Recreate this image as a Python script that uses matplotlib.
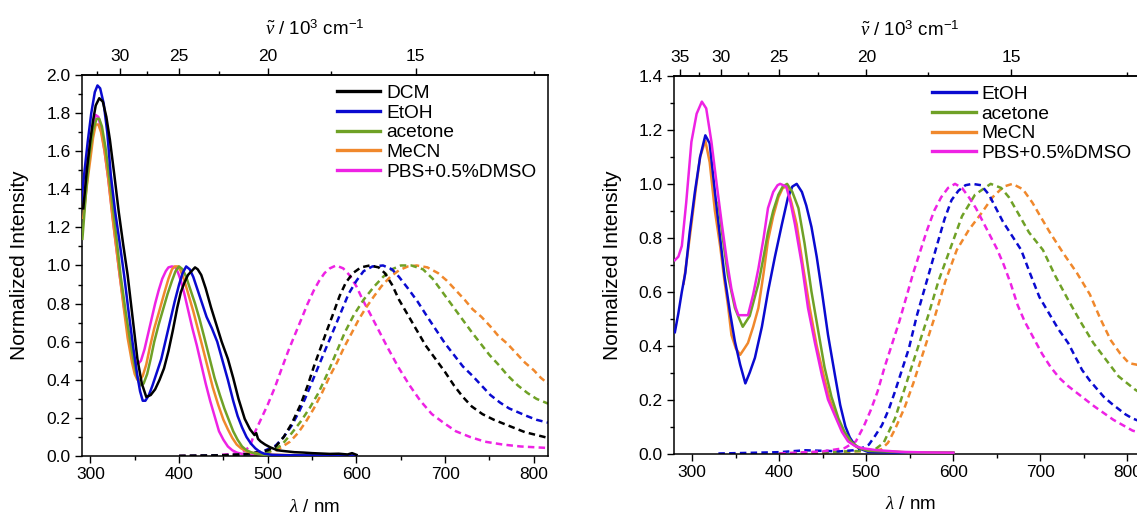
import numpy as np
import matplotlib.pyplot as plt
from matplotlib.ticker import MultipleLocator, FixedLocator, FormatStrFormatter

plt.rcParams['font.family'] = ['Liberation Sans', 'DejaVu Sans']
plt.rcParams['mathtext.fontset'] = 'custom'
plt.rcParams['mathtext.rm'] = 'Liberation Sans'
plt.rcParams['mathtext.it'] = 'Liberation Serif:italic'

c_dcm = '#000000'
c_etoh = '#0a0ad0'
c_acetone = '#6fa126'
c_mecn = '#f0882c'
c_pbs = '#ee22e4'

# ---- left panel: absorption (solid) ----
dcm_abs_wl = [292, 296, 300, 303, 306, 310, 314, 318, 322, 327, 332, 337, 342, 347, 353, 358, 363, 368, 373,
              378, 383, 388, 393, 398, 402, 406, 410, 414, 418, 421, 425, 430, 436, 442, 448, 455, 461, 467,
              474, 480, 485, 487, 489, 492, 497, 503, 511, 520, 530, 540, 550, 560, 570, 580, 590, 595, 600]
dcm_abs = [1.30, 1.50, 1.66, 1.76, 1.84, 1.878, 1.86, 1.78, 1.66, 1.475, 1.28, 1.11, 0.95, 0.75, 0.51, 0.38,
           0.31, 0.32, 0.35, 0.40, 0.46, 0.55, 0.66, 0.78, 0.86, 0.91, 0.95, 0.97, 0.99, 0.98, 0.95, 0.88, 0.78,
           0.69, 0.60, 0.51, 0.41, 0.30, 0.195, 0.14, 0.11, 0.12, 0.09, 0.076, 0.06, 0.045, 0.03, 0.025, 0.02,
           0.018, 0.015, 0.013, 0.011, 0.012, 0.008, 0.015, 0.006]

etoh_abs_wl = [289, 293, 297, 301, 305, 308, 311, 315, 319, 323, 328, 333, 338, 343, 348, 353, 356, 359, 362,
               366, 370, 375, 380, 385, 390, 395, 400, 404, 408, 412, 416, 421, 426, 431, 437, 443, 449, 455,
               461, 466, 471, 476, 481, 486, 491, 496, 505, 520, 550, 600]
etoh_abs = [1.30, 1.48, 1.65, 1.80, 1.91, 1.945, 1.93, 1.85, 1.70, 1.475, 1.28, 1.12, 0.95, 0.76, 0.58, 0.42,
            0.34, 0.29, 0.29, 0.32, 0.37, 0.44, 0.51, 0.61, 0.71, 0.81, 0.90, 0.96, 0.995, 0.98, 0.94, 0.87,
            0.80, 0.73, 0.67, 0.60, 0.50, 0.40, 0.29, 0.21, 0.15, 0.10, 0.065, 0.04, 0.022, 0.012, 0.006,
            0.004, 0.003, 0.002]

acetone_abs_wl = [291, 295, 299, 303, 307, 310, 313, 317, 321, 326, 330, 334, 340, 345, 350, 353, 356, 360,
                  364, 368, 372, 377, 382, 387, 392, 396, 400, 404, 408, 413, 418, 423, 428, 434, 440, 446,
                  451, 456, 461, 466, 471, 476, 482, 488, 495, 505, 530, 560, 600]
acetone_abs = [1.14, 1.38, 1.58, 1.71, 1.77, 1.77, 1.73, 1.62, 1.475, 1.28, 1.12, 0.95, 0.75, 0.60, 0.47,
               0.41, 0.37, 0.38, 0.43, 0.51, 0.60, 0.69, 0.77, 0.85, 0.92, 0.97, 0.995, 0.98, 0.94, 0.87,
               0.80, 0.72, 0.63, 0.52, 0.41, 0.32, 0.25, 0.19, 0.13, 0.085, 0.05, 0.03, 0.018, 0.011, 0.007,
               0.004, 0.003, 0.002, 0.002]

mecn_abs_wl = [292, 296, 300, 303, 306, 309, 312, 316, 320, 325, 329, 333, 337, 342, 347, 350, 353, 356, 359,
               363, 367, 372, 377, 383, 388, 392, 395, 399, 402, 406, 411, 416, 421, 426, 432, 438, 444, 450,
               455, 460, 465, 470, 476, 482, 490, 500, 520, 560, 600]
mecn_abs = [1.25, 1.42, 1.56, 1.67, 1.74, 1.74, 1.70, 1.60, 1.46, 1.25, 1.10, 0.95, 0.80, 0.62, 0.49, 0.43,
            0.40, 0.40, 0.42, 0.48, 0.57, 0.67, 0.75, 0.85, 0.93, 0.98, 0.995, 0.995, 0.97, 0.92, 0.84, 0.76,
            0.67, 0.58, 0.47, 0.36, 0.27, 0.19, 0.14, 0.095, 0.06, 0.04, 0.025, 0.017, 0.012, 0.008, 0.005,
            0.003, 0.002]

pbs_abs_wl = [292, 296, 300, 303, 306, 309, 312, 316, 320, 324, 328, 333, 338, 344, 348, 351, 354, 357, 361,
              365, 369, 373, 377, 381, 385, 388, 392, 396, 399, 402, 406, 410, 415, 420, 425, 430, 435, 440,
              445, 450, 455, 460, 465, 470, 480, 500, 550, 600]
pbs_abs = [1.30, 1.50, 1.65, 1.74, 1.79, 1.78, 1.72, 1.60, 1.46, 1.30, 1.14, 0.95, 0.78, 0.60, 0.52, 0.49,
           0.485, 0.50, 0.56, 0.64, 0.72, 0.80, 0.87, 0.93, 0.97, 0.99, 0.995, 0.99, 0.96, 0.92, 0.85, 0.77,
           0.67, 0.58, 0.48, 0.38, 0.29, 0.21, 0.13, 0.085, 0.05, 0.03, 0.018, 0.012, 0.007, 0.004, 0.002,
           0.001]

# ---- left panel: emission (dashed) ----
dcm_em_wl = [400, 440, 470, 490, 500, 509, 518, 527, 537, 545, 552, 559, 566, 574, 581, 588, 596, 605, 615,
             625, 632, 640, 648, 658, 668, 678, 689, 700, 710, 720, 730, 742, 755, 771, 790, 816]
dcm_em = [0.0, 0.003, 0.008, 0.02, 0.03, 0.05, 0.10, 0.17, 0.27, 0.37, 0.47, 0.56, 0.65, 0.75, 0.84, 0.91, 0.96,
          0.99, 1.0, 0.99, 0.96, 0.90, 0.82, 0.74, 0.66, 0.58, 0.51, 0.44, 0.37, 0.31, 0.26, 0.22, 0.19, 0.16,
          0.125, 0.095]

etoh_em_wl = [400, 450, 480, 495, 509, 518, 527, 535, 542, 550, 558, 566, 575, 583, 591, 600, 608, 618, 630,
              640, 648, 658, 669, 680, 690, 700, 710, 720, 731, 741, 751, 762, 772, 782, 792, 803, 816]
etoh_em = [0.0, 0.003, 0.01, 0.025, 0.055, 0.10, 0.16, 0.23, 0.30, 0.39, 0.48, 0.57, 0.67, 0.76, 0.85, 0.92,
           0.97, 0.995, 1.0, 0.98, 0.94, 0.88, 0.81, 0.73, 0.66, 0.59, 0.53, 0.47, 0.42, 0.37, 0.32, 0.28,
           0.25, 0.23, 0.21, 0.19, 0.175]

acetone_em_wl = [400, 450, 480, 500, 510, 517, 527, 537, 547, 557, 567, 577, 587, 597, 608, 620, 630, 640,
                 650, 662, 675, 686, 697, 708, 719, 730, 740, 750, 760, 771, 782, 793, 803, 816]
acetone_em = [0.0, 0.003, 0.008, 0.02, 0.04, 0.065, 0.12, 0.18, 0.25, 0.33, 0.43, 0.54, 0.65, 0.74, 0.82,
              0.89, 0.94, 0.98, 1.0, 1.0, 0.98, 0.93, 0.86, 0.79, 0.72, 0.65, 0.59, 0.53, 0.48, 0.42, 0.37,
              0.33, 0.30, 0.275]

mecn_em_wl = [400, 450, 490, 510, 525, 534, 543, 552, 561, 570, 578, 586, 594, 603, 611, 620, 628, 638, 648,
              658, 668, 680, 692, 702, 712, 722, 731, 741, 751, 760, 770, 780, 790, 800, 808, 816]
mecn_em = [0.0, 0.003, 0.01, 0.03, 0.075, 0.12, 0.18, 0.25, 0.33, 0.42, 0.49, 0.57, 0.64, 0.72, 0.78, 0.84,
           0.89, 0.94, 0.975, 0.995, 1.0, 0.99, 0.96, 0.92, 0.87, 0.82, 0.77, 0.73, 0.68, 0.63, 0.59, 0.54,
           0.49, 0.45, 0.41, 0.38]

pbs_em_wl = [400, 440, 470, 480, 485, 492, 500, 508, 515, 523, 530, 538, 545, 552, 558, 564, 570, 577, 585,
             592, 600, 607, 615, 625, 635, 648, 660, 672, 685, 698, 712, 728, 745, 765, 785, 816]
pbs_em = [0.0, 0.003, 0.015, 0.05, 0.12, 0.19, 0.27, 0.36, 0.45, 0.55, 0.63, 0.72, 0.80, 0.87, 0.92, 0.96,
          0.985, 1.0, 0.985, 0.95, 0.89, 0.82, 0.75, 0.66, 0.57, 0.46, 0.37, 0.29, 0.22, 0.175, 0.13, 0.10,
          0.075, 0.06, 0.05, 0.042]

# ---- right panel: absorption (solid) ----
r_etoh_abs_wl = [280, 284, 288, 292, 297, 303, 309, 315, 320, 326, 332, 337, 343, 349, 355, 361, 366, 372, 380,
                 387, 395, 403, 410, 415, 420, 426, 431, 437, 443, 449, 456, 464, 470, 476, 481, 487, 495, 502,
                 550, 600]
r_etoh_abs = [0.45, 0.52, 0.60, 0.67, 0.82, 0.97, 1.10, 1.18, 1.15, 0.97, 0.80, 0.66, 0.53, 0.415, 0.33, 0.26,
              0.30, 0.355, 0.47, 0.60, 0.73, 0.85, 0.95, 0.99, 1.0, 0.97, 0.92, 0.84, 0.73, 0.60, 0.44, 0.29,
              0.18, 0.10, 0.06, 0.03, 0.015, 0.006, 0.002, 0.002]

r_acetone_abs_wl = [330, 335, 341, 345, 349, 354, 358, 362, 366, 371, 376, 382, 387, 393, 399, 404, 409, 415,
                    422, 429, 437, 445, 452, 460, 468, 475, 483, 492, 502, 550, 600]
r_acetone_abs = [0.93, 0.80, 0.66, 0.60, 0.54, 0.50, 0.47, 0.49, 0.51, 0.57, 0.63, 0.73, 0.82, 0.90, 0.96,
                 0.99, 1.0, 0.97, 0.91, 0.78, 0.60, 0.45, 0.32, 0.21, 0.13, 0.08, 0.043, 0.02, 0.01, 0.004,
                 0.003]

r_mecn_abs_wl = [290, 295, 299, 304, 309, 315, 320, 326, 332, 337, 341, 345, 350, 355, 360, 364, 370, 376, 382,
                 387, 393, 399, 404, 409, 414, 420, 427, 435, 443, 451, 458, 466, 474, 481, 490, 502, 550, 600]
r_mecn_abs = [0.63, 0.75, 0.85, 0.98, 1.10, 1.16, 1.08, 0.90, 0.77, 0.64, 0.55, 0.44, 0.39, 0.366, 0.39, 0.41,
              0.47, 0.54, 0.67, 0.79, 0.88, 0.95, 0.985, 0.99, 0.93, 0.85, 0.70, 0.54, 0.40, 0.29, 0.20, 0.13,
              0.08, 0.043, 0.022, 0.01, 0.004, 0.003]

r_pbs_abs_wl = [280, 284, 288, 293, 299, 305, 311, 316, 322, 328, 334, 340, 345, 350, 353, 364, 370, 376, 382,
                387, 393, 398, 401, 408, 413, 418, 426, 433, 441, 449, 456, 464, 472, 479, 487, 495, 510, 540,
                570, 600]
r_pbs_abs = [0.717, 0.73, 0.77, 0.93, 1.156, 1.26, 1.305, 1.28, 1.156, 1.0, 0.85, 0.71, 0.61, 0.54, 0.513,
             0.513, 0.59, 0.686, 0.80, 0.91, 0.97, 0.995, 1.0, 0.99, 0.93, 0.85, 0.70, 0.54, 0.41, 0.29, 0.20,
             0.14, 0.08, 0.045, 0.028, 0.02, 0.013, 0.006, 0.004, 0.003]

# ---- right panel: emission (dashed) ----
r_etoh_em_wl = [330, 360, 400, 430, 450, 470, 485, 495, 503, 510, 518, 526, 533, 541, 549, 558, 566, 574, 581,
                590, 598, 606, 614, 622, 632, 641, 649, 657, 667, 678, 688, 699, 710, 721, 732, 740, 748, 757,
                765, 773, 782, 790, 798, 806, 822]
r_etoh_em = [0.0, 0.002, 0.005, 0.012, 0.01, 0.008, 0.012, 0.02, 0.033, 0.065, 0.105, 0.165, 0.23, 0.31, 0.39,
             0.51, 0.60, 0.69, 0.77, 0.87, 0.94, 0.975, 0.995, 1.0, 0.995, 0.96, 0.91, 0.86, 0.81, 0.755,
             0.67, 0.58, 0.52, 0.46, 0.41, 0.36, 0.31, 0.27, 0.24, 0.21, 0.185, 0.165, 0.145, 0.13, 0.11]

r_acetone_em_wl = [400, 450, 480, 500, 510, 520, 533, 546, 558, 571, 583, 596, 610, 625, 643, 655, 664, 674,
                   687, 703, 717, 732, 746, 761, 775, 790, 809, 822]
r_acetone_em = [0.0, 0.005, 0.008, 0.01, 0.015, 0.04, 0.13, 0.26, 0.38, 0.51, 0.64, 0.755, 0.88, 0.96, 1.0,
                0.985, 0.95, 0.894, 0.82, 0.755, 0.66, 0.57, 0.49, 0.41, 0.35, 0.286, 0.237, 0.21]

r_mecn_em_wl = [400, 450, 490, 510, 517, 525, 533, 544, 554, 566, 579, 591, 604, 618, 633, 645, 658, 668, 680,
                691, 700, 711, 727, 742, 757, 769, 781, 792, 802, 810, 822]
r_mecn_em = [0.0, 0.004, 0.008, 0.012, 0.015, 0.04, 0.09, 0.17, 0.26, 0.38, 0.51, 0.64, 0.755, 0.83, 0.894,
             0.95, 0.99, 1.0, 0.98, 0.93, 0.88, 0.82, 0.74, 0.67, 0.59, 0.50, 0.42, 0.37, 0.335, 0.33, 0.32]

r_pbs_em_wl = [400, 450, 475, 488, 497, 505, 513, 521, 530, 538, 546, 554, 562, 570, 578, 586, 594, 602, 610,
               618, 626, 634, 642, 650, 658, 666, 674, 682, 692, 702, 712, 722, 732, 742, 752, 762, 773, 784,
               795, 806, 822]
r_pbs_em = [0.0, 0.008, 0.02, 0.045, 0.10, 0.16, 0.23, 0.32, 0.41, 0.49, 0.58, 0.67, 0.75, 0.83, 0.90, 0.95,
            0.985, 1.0, 0.985, 0.95, 0.91, 0.86, 0.81, 0.76, 0.70, 0.63, 0.55, 0.49, 0.43, 0.37, 0.32, 0.28,
            0.25, 0.225, 0.20, 0.175, 0.15, 0.125, 0.105, 0.085, 0.07]

solid_lw = 1.8
dash = (0, (2.6, 1.7))


def nm_to_kcm(x):
    x = np.asarray(x, dtype=float)
    out = np.full_like(x, np.inf)
    np.divide(1e4, x, out=out, where=x != 0)
    return out


def setup_axes(ax, xlim, ymax):
    ax.set_xlim(*xlim)
    ax.set_ylim(0, ymax)
    ax.xaxis.set_major_locator(MultipleLocator(100))
    ax.xaxis.set_minor_locator(MultipleLocator(50))
    ax.yaxis.set_major_locator(MultipleLocator(0.2))
    ax.yaxis.set_minor_locator(MultipleLocator(0.1))
    ax.yaxis.set_major_formatter(FormatStrFormatter('%.1f'))
    ax.tick_params(which='both', direction='out', width=1.0, labelsize=12.5, pad=3)
    ax.tick_params(which='major', length=5)
    ax.tick_params(which='minor', length=3)
    for s in ax.spines.values():
        s.set_linewidth(1.1)
    ax.set_xlabel(r'$\lambda$ / nm', fontsize=13.5, labelpad=12)
    ax.set_ylabel('Normalized Intensity', fontsize=15, labelpad=12)

    top = ax.secondary_xaxis('top', functions=(nm_to_kcm, nm_to_kcm))
    top.xaxis.set_major_locator(FixedLocator([35, 30, 25, 20, 15]))
    top.xaxis.set_minor_locator(FixedLocator([37.5, 32.5, 27.5, 22.5, 17.5, 12.5]))
    top.xaxis.set_major_formatter(FormatStrFormatter('%d'))
    top.tick_params(which='both', direction='out', width=1.0, labelsize=12.5, pad=3)
    top.tick_params(which='major', length=5)
    top.tick_params(which='minor', length=3)
    top.spines['top'].set_linewidth(1.1)
    top.set_xlabel(r'$\tilde{\nu}$ / 10$^3$ cm$^{-1}$', fontsize=13.5, labelpad=10)
    return top


fig = plt.figure(figsize=(11.37, 5.16), dpi=100)
ax1 = fig.add_axes([0.0717, 0.1163, 0.4103, 0.7384])
ax2 = fig.add_axes([0.5928, 0.1211, 0.4155, 0.7316])

# left panel
ax1.plot(pbs_abs_wl, pbs_abs, color=c_pbs, lw=solid_lw, label='PBS+0.5%DMSO', zorder=2)
ax1.plot(mecn_abs_wl, mecn_abs, color=c_mecn, lw=solid_lw, label='MeCN', zorder=3)
ax1.plot(acetone_abs_wl, acetone_abs, color=c_acetone, lw=solid_lw, label='acetone', zorder=4)
ax1.plot(etoh_abs_wl, etoh_abs, color=c_etoh, lw=solid_lw, label='EtOH', zorder=5)
ax1.plot(dcm_abs_wl, dcm_abs, color=c_dcm, lw=solid_lw, label='DCM', zorder=6)

ax1.plot(pbs_em_wl, pbs_em, color=c_pbs, lw=solid_lw, ls=dash)
ax1.plot(mecn_em_wl, mecn_em, color=c_mecn, lw=solid_lw, ls=dash)
ax1.plot(acetone_em_wl, acetone_em, color=c_acetone, lw=solid_lw, ls=dash)
ax1.plot(etoh_em_wl, etoh_em, color=c_etoh, lw=solid_lw, ls=dash)
ax1.plot(dcm_em_wl, dcm_em, color=c_dcm, lw=solid_lw, ls=dash)

setup_axes(ax1, (290, 816), 2.0)
h, l = ax1.get_legend_handles_labels()
leg1 = ax1.legend(h[::-1], l[::-1], loc='upper left', bbox_to_anchor=(0.548, 0.975), frameon=False,
                  fontsize=13.8, handlelength=2.25, handletextpad=0.3, labelspacing=0.12,
                  borderaxespad=0, borderpad=0)
for ln in leg1.get_lines():
    ln.set_linewidth(2.4)

# right panel
ax2.plot(r_mecn_abs_wl, r_mecn_abs, color=c_mecn, lw=solid_lw, label='MeCN', zorder=2)
ax2.plot(r_etoh_abs_wl, r_etoh_abs, color=c_etoh, lw=solid_lw, label='EtOH', zorder=3)
ax2.plot(r_acetone_abs_wl, r_acetone_abs, color=c_acetone, lw=solid_lw, label='acetone', zorder=4)
ax2.plot(r_pbs_abs_wl, r_pbs_abs, color=c_pbs, lw=solid_lw, label='PBS+0.5%DMSO', zorder=5)

ax2.plot(r_mecn_em_wl, r_mecn_em, color=c_mecn, lw=solid_lw, ls=dash)
ax2.plot(r_acetone_em_wl, r_acetone_em, color=c_acetone, lw=solid_lw, ls=dash)
ax2.plot(r_etoh_em_wl, r_etoh_em, color=c_etoh, lw=solid_lw, ls=dash)
ax2.plot(r_pbs_em_wl, r_pbs_em, color=c_pbs, lw=solid_lw, ls=dash)

setup_axes(ax2, (279, 822), 1.4)
h, l = ax2.get_legend_handles_labels()
order = [1, 2, 0, 3]
leg2 = ax2.legend([h[i] for i in order], [l[i] for i in order], loc='upper left',
                  bbox_to_anchor=(0.547, 0.975), frameon=False, fontsize=13.8, handlelength=2.25,
                  handletextpad=0.3, labelspacing=0.12, borderaxespad=0, borderpad=0)
for ln in leg2.get_lines():
    ln.set_linewidth(2.4)

fig.savefig('out.png', dpi=100)
